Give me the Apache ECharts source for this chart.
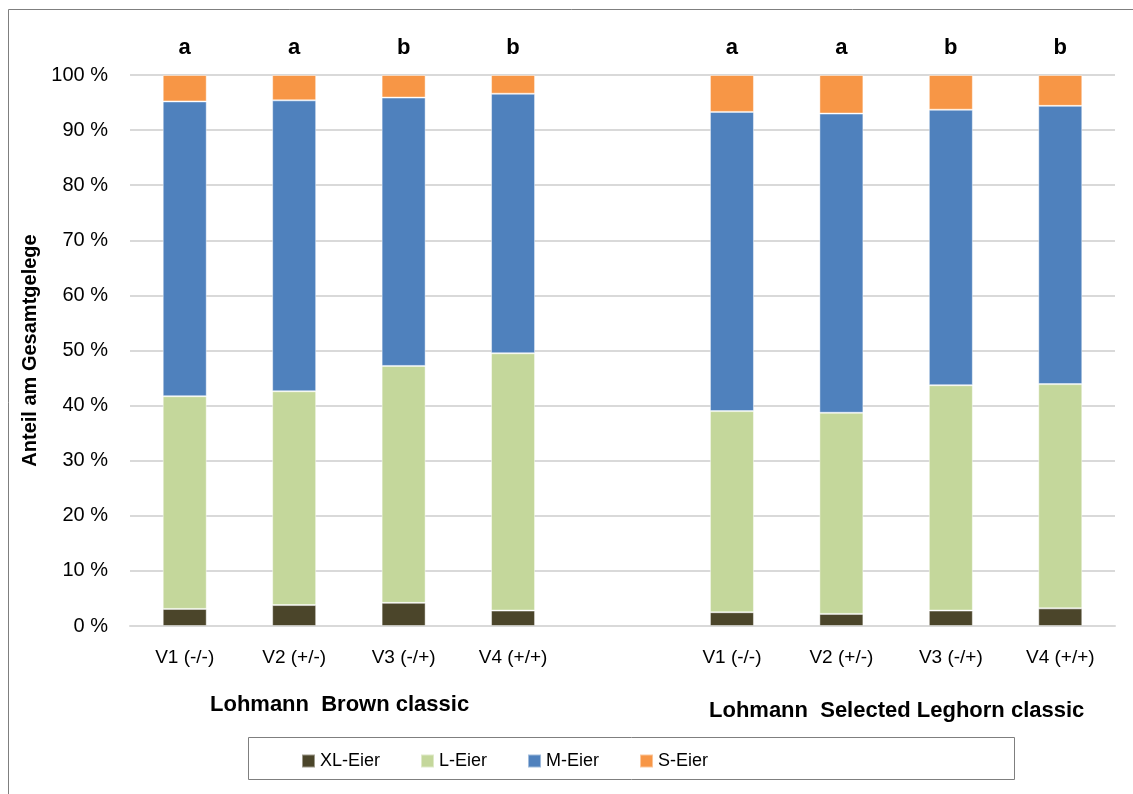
<!DOCTYPE html>
<html>
<head>
<meta charset="utf-8">
<script src="https://cdn.jsdelivr.net/npm/echarts@6/dist/echarts.min.js"></script>
<style>
  html, body { margin: 0; padding: 0; background: #fff; }
  #chart { width: 1133px; height: 794px; }
</style>
</head>
<body>
<div id="chart"></div>
<script>
// Kategorien (leere Mitte trennt die beiden Herkünfte)
const categories = ['V1 (-/-)', 'V2 (+/-)', 'V3 (-/+)', 'V4 (+/+)', '', 'V1 (-/-)', 'V2 (+/-)', 'V3 (-/+)', 'V4 (+/+)'];
const letters = ['a', 'a', 'b', 'b', '', 'a', 'a', 'b', 'b'];
const groupNames = ['Lohmann  Brown classic', 'Lohmann  Selected Leghorn classic'];

// Anteile in %
const xlEier = [3.1, 3.8, 4.2, 2.8, null, 2.5, 2.2, 2.8, 3.2];
const lEier = [38.6, 38.8, 43.0, 46.7, null, 36.5, 36.5, 40.9, 40.7];
const mEier = [53.5, 52.8, 48.7, 47.1, null, 54.3, 54.3, 50.0, 50.5];
const sEier = [4.8, 4.6, 4.1, 3.4, null, 6.7, 7.0, 6.3, 5.6];

const yTicks = { min: 0, max: 100, interval: 10 };

const font = '"Liberation Sans", sans-serif';

const chart = echarts.init(document.getElementById('chart'));

const barStyle = (color) => ({
  color: color,
  borderColor: 'rgba(255,255,255,0.45)',
  borderWidth: 1
});

const option = {
  animation: false,
  textStyle: { fontFamily: font },
  grid: { left: 130, right: 18, top: 75, bottom: 168 },
  xAxis: {
    type: 'category',
    data: categories,
    axisLine: { lineStyle: { color: '#d9d9d9', width: 2 } },
    axisTick: { show: false },
    axisLabel: { color: '#000', fontSize: 19, margin: 22, fontFamily: font, interval: 0 }
  },
  yAxis: {
    type: 'value',
    min: yTicks.min,
    max: yTicks.max,
    interval: yTicks.interval,
    name: 'Anteil am Gesamtgelege',
    nameLocation: 'middle',
    nameGap: 86,
    nameTextStyle: { color: '#000', fontSize: 20, fontWeight: 'bold', fontFamily: font },
    axisLine: { show: false },
    axisTick: { show: false },
    axisLabel: { color: '#000', fontSize: 20, margin: 22, formatter: '{value} %', fontFamily: font },
    splitLine: { lineStyle: { color: '#d9d9d9', width: 2 } }
  },
  legend: {
    left: 296,
    top: 747,
    itemWidth: 13,
    itemHeight: 13,
    itemGap: 40,
    icon: 'rect',
    textStyle: { color: '#000', fontSize: 18, fontFamily: font },
    data: ['XL-Eier', 'L-Eier', 'M-Eier', 'S-Eier']
  },
  series: [
    { name: 'XL-Eier', type: 'bar', stack: 'total', barWidth: 44, itemStyle: barStyle('#4b452a'), data: xlEier },
    { name: 'L-Eier', type: 'bar', stack: 'total', itemStyle: barStyle('#c4d79b'), data: lEier },
    { name: 'M-Eier', type: 'bar', stack: 'total', itemStyle: barStyle('#4f81bd'), data: mEier },
    {
      name: 'S-Eier', type: 'bar', stack: 'total', itemStyle: barStyle('#f79646'), data: sEier,
      label: {
        show: true,
        position: 'top',
        distance: 16,
        color: '#000',
        fontSize: 22,
        fontWeight: 'bold',
        fontFamily: font,
        formatter: (p) => letters[p.dataIndex]
      }
    }
  ],
  graphic: [
    {
      type: 'rect',
      left: 6, top: 7,
      shape: { width: 1140, height: 800 },
      style: { fill: 'none', stroke: '#7f7f7f', lineWidth: 1 },
      silent: true
    },
    {
      type: 'rect',
      left: 246, top: 735,
      shape: { width: 766, height: 42 },
      style: { fill: 'none', stroke: '#7f7f7f', lineWidth: 1 },
      silent: true
    },
    {
      type: 'text',
      left: 210, top: 694,
      style: { text: groupNames[0], fill: '#000', font: 'bold 22px ' + font }
    },
    {
      type: 'text',
      left: 709, top: 700,
      style: { text: groupNames[1], fill: '#000', font: 'bold 22px ' + font }
    }
  ]
};

chart.setOption(option);
</script>
</body>
</html>
